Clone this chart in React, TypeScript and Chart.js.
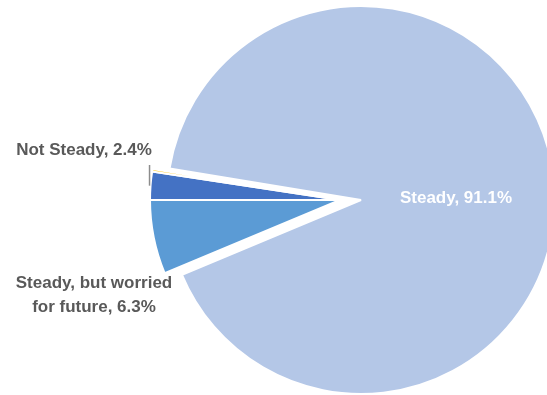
import { useEffect, useRef } from "react";
import { Chart, registerables } from "chart.js";

Chart.register(...registerables);

// ---- data ----
const categoryLines: string[][] = [
  ["Steady, but worried", "for future"],
  ["Not Steady"],
  ["Other"],
  ["Steady"],
];
const values: number[] = [6.3, 2.4, 0.2, 91.1];
const showLabel: boolean[] = [true, true, false, true];
const colors: string[] = ["#5B9BD5", "#4472C4", "#FFC000", "#B4C7E7"];
const exploded: boolean[] = [true, true, true, false];

// ---- layout / style ----
const W = 547;
const H = 395;
const RADIUS = 194;
const EXPLODED_RADIUS = 190;
const EXPLODE_SHIFT = 21;
const labelPos: { x: number; y: number; color: string }[] = [
  { x: 94, y: 283, color: "#595959" },
  { x: 84, y: 150, color: "#595959" },
  { x: 0, y: 0, color: "#595959" },
  { x: 456, y: 198, color: "#FFFFFF" },
];
const LINE_H = 24;
const FONT = "bold 17px 'Liberation Sans', Arial, sans-serif";

function labelLines(i: number): string[] {
  const lines = categoryLines[i].slice();
  lines[lines.length - 1] = `${lines[lines.length - 1]}, ${values[i].toFixed(1)}%`;
  return lines;
}

const explodePlugin = {
  id: "explode",
  afterDatasetsUpdate(chart: any) {
    const meta = chart.getDatasetMeta(0);
    meta.data.forEach((el: any, i: number) => {
      if (exploded[i]) {
        el.x = el.x - EXPLODE_SHIFT;
        el.outerRadius = EXPLODED_RADIUS;
      }
    });
  },
};

const labelPlugin = {
  id: "sliceLabels",
  afterDraw(chart: any) {
    const ctx = chart.ctx as CanvasRenderingContext2D;
    const meta = chart.getDatasetMeta(0);
    ctx.save();
    // leader line for "Not Steady"
    const el = meta.data[1];
    const mid = (el.startAngle + el.endAngle) / 2;
    const ex = el.x + Math.cos(mid) * el.outerRadius - 1;
    const ey = el.y + Math.sin(mid) * el.outerRadius;
    ctx.strokeStyle = "#8C8C8C";
    ctx.lineWidth = 1.5;
    ctx.beginPath();
    ctx.moveTo(ex, labelPos[1].y + 15);
    ctx.lineTo(ex, ey);
    ctx.stroke();

    ctx.font = FONT;
    ctx.textAlign = "center";
    ctx.textBaseline = "middle";
    values.forEach((_, i) => {
      if (!showLabel[i]) return;
      const p = labelPos[i];
      ctx.fillStyle = p.color;
      labelLines(i).forEach((t, k) => ctx.fillText(t, p.x, p.y + k * LINE_H));
    });
    ctx.restore();
  },
};

export default function App() {
  const ref = useRef<HTMLCanvasElement | null>(null);
  useEffect(() => {
    if (!ref.current) return;
    const total = values.reduce((a, b) => a + b, 0);
    const chart = new Chart(ref.current, {
      type: "pie",
      data: {
        labels: categoryLines.map((l) => l.join(" ")),
        datasets: [
          {
            data: values,
            backgroundColor: colors,
            borderColor: "#FFFFFF",
            borderWidth: 2,
            clip: false as any,
          } as any,
        ],
      },
      options: {
        responsive: false,
        animation: false,
        events: [],
        radius: RADIUS,
        rotation: 270 - (values[0] / total) * 360,
        layout: { padding: { left: 175, right: 0, top: 5, bottom: 0 } },
        plugins: {
          legend: { display: false },
          tooltip: { enabled: false },
        },
      } as any,
      plugins: [explodePlugin, labelPlugin],
    });
    return () => chart.destroy();
  }, []);
  return (
    <div style={{ position: "absolute", left: 0, top: 0, width: W, height: H, background: "#fff" }}>
      <canvas ref={ref} width={W} height={H} style={{ width: W, height: H, display: "block" }} />
    </div>
  );
}
